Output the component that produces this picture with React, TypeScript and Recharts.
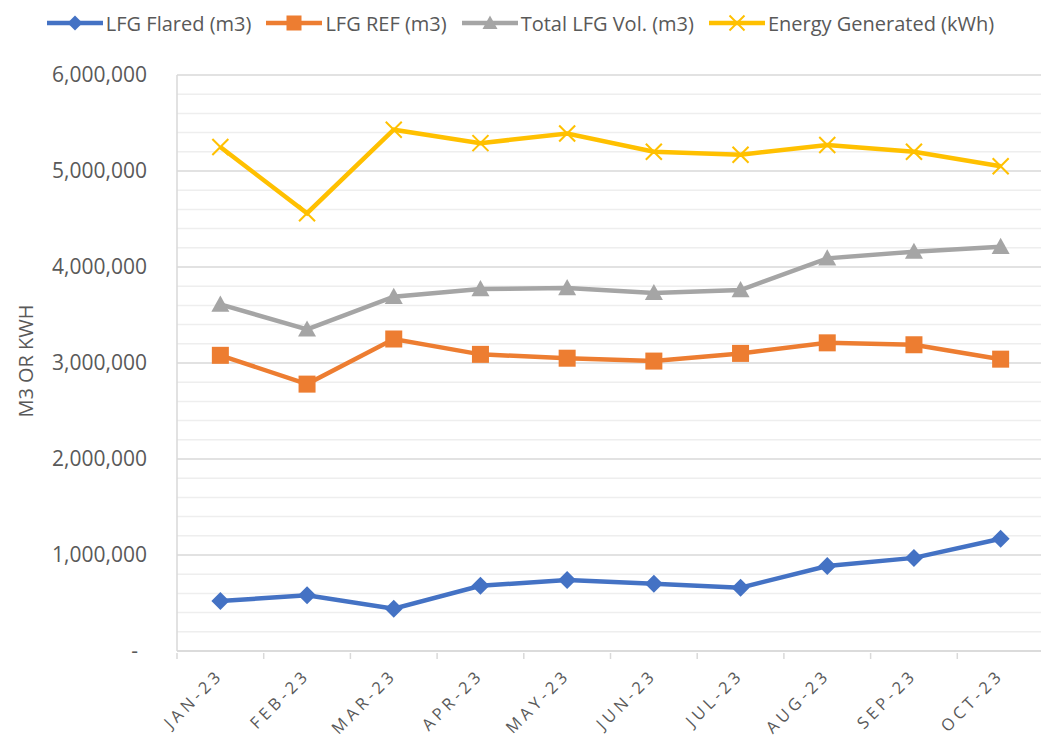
import React from 'react';
import { LineChart, Line, XAxis, YAxis, CartesianGrid, Legend, ReferenceLine } from 'recharts';

const months = ['JAN-23', 'FEB-23', 'MAR-23', 'APR-23', 'MAY-23', 'JUN-23', 'JUL-23', 'AUG-23', 'SEP-23', 'OCT-23'];
const flared = [520000, 580000, 440000, 680000, 740000, 700000, 660000, 885000, 970000, 1170000];
const lfgRef = [3080000, 2780000, 3250000, 3090000, 3050000, 3020000, 3100000, 3210000, 3190000, 3040000];
const totalVol = [3610000, 3350000, 3690000, 3770000, 3780000, 3730000, 3760000, 4090000, 4160000, 4210000];
const energy = [5250000, 4560000, 5430000, 5290000, 5390000, 5200000, 5170000, 5270000, 5200000, 5050000];
const majorTicks = [0, 1000000, 2000000, 3000000, 4000000, 5000000, 6000000];
const minorTicks = [200000, 400000, 600000, 800000, 1200000, 1400000, 1600000, 1800000, 2200000, 2400000, 2600000, 2800000, 3200000, 3400000, 3600000, 3800000, 4200000, 4400000, 4600000, 4800000, 5200000, 5400000, 5600000, 5800000];

const data = months.map((m, i) => ({ month: m, flared: flared[i], ref: lfgRef[i], total: totalVol[i], energy: energy[i] }));

const BLUE = '#4472C4';
const ORANGE = '#ED7D31';
const GRAY = '#A5A5A5';
const GOLD = '#FFC000';
const TEXT = '#595959';
const FONT = '"Open Sans", sans-serif';

const Diamond = (p: any) => {
  const { cx, cy, fill, s = 9 } = p;
  if (cx == null || cy == null) return null;
  return <polygon points={`${cx},${cy - s} ${cx + s},${cy} ${cx},${cy + s} ${cx - s},${cy}`} fill={fill} />;
};
const Square = (p: any) => {
  const { cx, cy, fill, s = 8.5 } = p;
  if (cx == null || cy == null) return null;
  return <rect x={cx - s} y={cy - s} width={2 * s} height={2 * s} fill={fill} />;
};
const Triangle = (p: any) => {
  const { cx, cy, fill, s = 9 } = p;
  if (cx == null || cy == null) return null;
  return <polygon points={`${cx},${cy - s} ${cx + s},${cy + s * 0.8} ${cx - s},${cy + s * 0.8}`} fill={fill} />;
};
const Cross = (p: any) => {
  const { cx, cy, stroke, s = 8 } = p;
  if (cx == null || cy == null) return null;
  return (
    <g stroke={stroke} strokeWidth={2}>
      <line x1={cx - s} y1={cy - s} x2={cx + s} y2={cy + s} />
      <line x1={cx - s} y1={cy + s} x2={cx + s} y2={cy - s} />
    </g>
  );
};

const legendItems = [
  { label: 'LFG Flared (m3)', color: BLUE, Marker: Diamond },
  { label: 'LFG REF (m3)', color: ORANGE, Marker: Square },
  { label: 'Total LFG Vol. (m3)', color: GRAY, Marker: Triangle },
  { label: 'Energy Generated (kWh)', color: GOLD, Marker: Cross },
];

const LegendContent = () => (
  <div style={{ display: 'flex', justifyContent: 'center', alignItems: 'center', fontFamily: FONT, fontSize: 20, color: TEXT, gap: 15, height: 40, paddingLeft: 0 }}>
    {legendItems.map((it) => (
      <div key={it.label} style={{ display: 'flex', alignItems: 'center' }}>
        <svg width={56} height={20} style={{ marginRight: 3 }}>
          <line x1={0} y1={10} x2={56} y2={10} stroke={it.color} strokeWidth={4.5} />
          <it.Marker cx={28} cy={10} fill={it.color} stroke={it.color} s={7.5} />
        </svg>
        <span>{it.label}</span>
      </div>
    ))}
  </div>
);

const XTick = (props: any) => {
  const { x, y, payload } = props;
  const off = payload && payload.offset ? payload.offset : 43.35;
  const tx = x + 4;
  const ty = y + 23;
  return (
    <g>
      <line x1={x - off} x2={x - off} y1={y} y2={y + 6} stroke="#d9d9d9" strokeWidth={1.5} />
      <text x={tx} y={ty} textAnchor="end" transform={`rotate(-45 ${tx} ${ty})`} fill={TEXT} fontSize={16.5} fontFamily={FONT} letterSpacing={4}>
        {payload.value}
      </text>
    </g>
  );
};

const YTick = (props: any) => {
  const { x, y, payload } = props;
  const v = payload.value;
  const label = v === 0 ? '-' : v.toLocaleString('en-US');
  return (
    <text x={v === 0 ? x - 9 : x} y={y} dy={7} textAnchor="end" fill={TEXT} fontSize={21} fontFamily={FONT}>
      {label}
    </text>
  );
};

const YLabel = (props: any) => {
  const vb = props.viewBox || {};
  const cy = (vb.y || 75) + (vb.height || 576) / 2 - 2;
  const cx = 26;
  return (
    <text x={cx} y={cy} dy={7} textAnchor="middle" transform={`rotate(-90 ${cx} ${cy})`} fill={TEXT} fontSize={20} fontFamily={FONT}>
      M3 OR KWH
    </text>
  );
};

export default function App() {
  return (
    <div style={{ position: 'absolute', left: 0, top: 0, width: 1041, height: 741, overflow: 'hidden', background: '#fff' }}>
      <LineChart width={1044} height={741} data={data} margin={{ top: 35, right: 0, bottom: 0, left: 0 }}>
        <Legend verticalAlign="top" height={40} content={<LegendContent />} wrapperStyle={{ top: 3, left: 0, width: 1041 }} />
        <CartesianGrid horizontal={false} vertical={false} />
        {minorTicks.map((v) => (
          <ReferenceLine key={`mi${v}`} y={v} stroke="#eeeeee" strokeWidth={1.5} />
        ))}
        {majorTicks.map((v) => (
          <ReferenceLine key={`ma${v}`} y={v} stroke="#d9d9d9" strokeWidth={1.5} />
        ))}
        <XAxis dataKey="month" scale="band" height={90} tickLine={false} tickSize={0} axisLine={{ stroke: '#d9d9d9', strokeWidth: 1.5 }} tick={<XTick />} interval={0} />
        <YAxis
          width={177}
          domain={[0, 6000000]}
          ticks={majorTicks}
          tickLine={false}
          tickSize={0}
          tickMargin={30}
          axisLine={{ stroke: '#d9d9d9', strokeWidth: 1.5 }}
          tick={<YTick />}
          label={<YLabel />}
        />
        <Line dataKey="flared" stroke={BLUE} strokeWidth={4.5} isAnimationActive={false} dot={<Diamond fill={BLUE} />} activeDot={false} />
        <Line dataKey="ref" stroke={ORANGE} strokeWidth={4.5} isAnimationActive={false} dot={<Square fill={ORANGE} />} activeDot={false} />
        <Line dataKey="total" stroke={GRAY} strokeWidth={4.5} isAnimationActive={false} dot={<Triangle fill={GRAY} />} activeDot={false} />
        <Line dataKey="energy" stroke={GOLD} strokeWidth={4.5} isAnimationActive={false} dot={<Cross stroke={GOLD} />} activeDot={false} />
      </LineChart>
    </div>
  );
}
